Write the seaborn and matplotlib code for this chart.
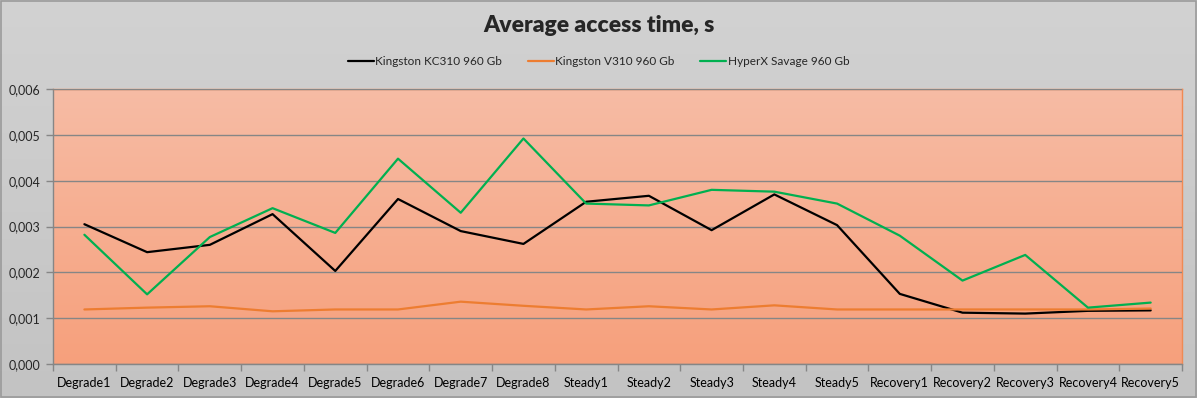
import numpy as np
import pandas as pd
import matplotlib
matplotlib.use("Agg")
import matplotlib.pyplot as plt
import seaborn as sns
from matplotlib.colors import LinearSegmentedColormap
from matplotlib.ticker import FuncFormatter, FixedLocator

categories = ["Degrade1", "Degrade2", "Degrade3", "Degrade4", "Degrade5", "Degrade6",
              "Degrade7", "Degrade8", "Steady1", "Steady2", "Steady3", "Steady4",
              "Steady5", "Recovery1", "Recovery2", "Recovery3", "Recovery4", "Recovery5"]

kc310 = [0.00305, 0.00244, 0.00260, 0.00327, 0.00203, 0.00360, 0.00290, 0.00262, 0.00354,
         0.00367, 0.00292, 0.00370, 0.00303, 0.00153, 0.00112, 0.00110, 0.00116, 0.00117]
v310 = [0.00119, 0.00123, 0.00126, 0.00115, 0.00119, 0.00119, 0.00136, 0.00127, 0.00119,
        0.00126, 0.00119, 0.00128, 0.00119, 0.00119, 0.00119, 0.00119, 0.00119, 0.00121]
savage = [0.00282, 0.00152, 0.00277, 0.00340, 0.00286, 0.00448, 0.00330, 0.00492, 0.00350,
          0.00346, 0.00380, 0.00376, 0.00350, 0.00280, 0.00182, 0.00238, 0.00123, 0.00134]

series_names = ["Kingston KC310 960 Gb", "Kingston V310 960 Gb", "HyperX Savage 960 Gb"]
colors = ["#000000", "#ED7D31", "#00B050"]

df = pd.DataFrame({
    "Test": categories * 3,
    "Time": kc310 + v310 + savage,
    "Drive": [n for n in series_names for _ in categories],
})

sns.set_style("white")
plt.rcParams["font.family"] = ["Lato", "DejaVu Sans"]

fig = plt.figure(figsize=(11.97, 3.98), dpi=100)

# figure background gradient
bg = fig.add_axes([0, 0, 1, 1], zorder=-10)
bg_cmap = LinearSegmentedColormap.from_list("bg", ["#C3C3C3", "#D2D2D2"])
bg.imshow(np.linspace(0, 1, 256).reshape(-1, 1), cmap=bg_cmap, aspect="auto",
          extent=[0, 1, 0, 1], origin="lower")
bg.set_xlim(0, 1)
bg.set_ylim(0, 1)
bg.axis("off")
fig.patches.append(plt.Rectangle((0.0008, 0.0013), 0.9984, 0.9974, transform=fig.transFigure,
                                 fill=False, edgecolor="#9A9A9A", lw=1.2))

ax = fig.add_axes([0.0443, 0.0854, 0.9432, 0.691])
ax.patch.set_alpha(0)
plot_cmap = LinearSegmentedColormap.from_list("plot", ["#F6A07C", "#F7BCA5"])
ax.imshow(np.linspace(0, 1, 256).reshape(-1, 1), cmap=plot_cmap, aspect="auto",
          extent=[0, 1, 0, 1], origin="lower", transform=ax.transAxes, zorder=0)

sns.lineplot(data=df, x="Test", y="Time", hue="Drive", palette=colors, lw=1.6,
             sort=False, ax=ax, zorder=3, legend=True)

ax.set_xlim(-0.5, len(categories) - 0.5)
ax.set_ylim(0, 0.006)
ax.set_yticks(np.arange(0, 0.0061, 0.001))
ax.yaxis.set_major_formatter(FuncFormatter(lambda v, p: f"{v:.3f}".replace(".", ",")))
ax.yaxis.grid(True, color="#868686", lw=1)
ax.set_axisbelow(False)
for gl in ax.get_ygridlines():
    gl.set_zorder(1)
ax.set_xlabel("")
ax.set_ylabel("")

ax.set_xticks(range(len(categories)))
ax.set_xticklabels(categories)
ax.xaxis.set_minor_locator(FixedLocator(np.arange(-0.5, len(categories), 1)))
ax.tick_params(axis="x", which="major", length=0, pad=9, labelsize=9, colors="#000000")
ax.tick_params(axis="x", which="minor", length=5, width=1, color="#868686", direction="out", bottom=True)
ax.tick_params(axis="y", which="major", length=5, width=1, color="#868686", labelsize=9,
               direction="out", left=True, pad=4)

for side in ["left", "bottom"]:
    ax.spines[side].set_color("#868686")
    ax.spines[side].set_linewidth(1)
for side in ["top", "right"]:
    ax.spines[side].set_color("#F08A54")
    ax.spines[side].set_linewidth(1)

handles, labels = ax.get_legend_handles_labels()
ax.get_legend().remove()
fig.legend(handles, labels, loc="center", bbox_to_anchor=(0.5, 0.845), ncol=3, frameon=False,
           fontsize=8.5, handlelength=2.2, handletextpad=0.1, columnspacing=2.2)

fig.text(0.5, 0.935, "Average access time, s", ha="center", va="center",
         fontsize=16.5, fontweight="heavy")

fig.savefig("out.png", dpi=100)
